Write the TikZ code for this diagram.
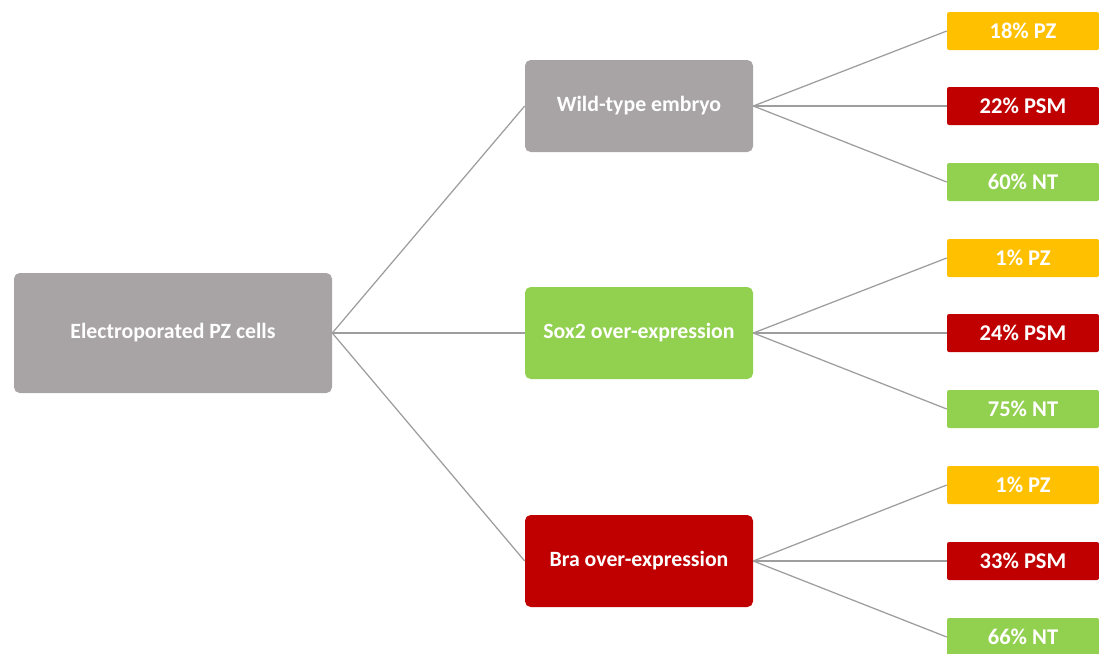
\documentclass[tikz,border=0pt]{standalone}
\usepackage{fontspec}
\setmainfont{Carlito}
\usetikzlibrary{positioning}
\definecolor{boxgray}{HTML}{A8A4A5}
\definecolor{pzorange}{HTML}{FFC000}
\definecolor{psmred}{HTML}{C00000}
\definecolor{ntgreen}{HTML}{92D050}
\definecolor{linkgray}{HTML}{9E9E9E}

\begin{document}
\begin{tikzpicture}[
  x=0.025cm, y=-0.025cm,
  rootblock/.style={rectangle, fill=boxgray, rounded corners=4pt, text centered, minimum width=318*0.025cm, minimum height=120*0.025cm, font=\bfseries\fontsize{15.5}{18}\selectfont, text=white},
  midblock/.style={rectangle, rounded corners=4pt, text centered, minimum width=228*0.025cm, minimum height=92*0.025cm, font=\bfseries\fontsize{15.5}{18}\selectfont, text=white},
  leafblock/.style={rectangle, rounded corners=1.5pt, text centered, minimum width=152*0.025cm, minimum height=38*0.025cm, font=\bfseries\fontsize{16}{18}\selectfont, text=white},
  link/.style={draw=linkgray, line width=0.9pt}
]

  \useasboundingbox (0,0) rectangle (1099,653);

  % Root
  \node[rootblock] (root) at (173, 333) {Electroporated PZ cells};

  % ==================== CONDITIONS ====================
  \node[midblock, fill=boxgray] (wt) at (639, 106) {Wild-type embryo};
  \node[midblock, fill=ntgreen] (sox) at (639, 333) {Sox2 over-expression};
  \node[midblock, fill=psmred] (bra) at (639, 561) {Bra over-expression};

  \draw[link] (root.east) -- (wt.west);
  \draw[link] (root.east) -- (sox.west);
  \draw[link] (root.east) -- (bra.west);

  % ==================== OUTCOMES ====================
  % Wild-type
  \node[leafblock, fill=pzorange] (wt_pz) at (1023, 31) {18\% PZ};
  \node[leafblock, fill=psmred] (wt_psm) at (1023, 106) {22\% PSM};
  \node[leafblock, fill=ntgreen] (wt_nt) at (1023, 182) {60\% NT};

  % Sox2
  \node[leafblock, fill=pzorange] (sox_pz) at (1023, 258) {1\% PZ};
  \node[leafblock, fill=psmred] (sox_psm) at (1023, 333) {24\% PSM};
  \node[leafblock, fill=ntgreen] (sox_nt) at (1023, 409) {75\% NT};

  % Bra
  \node[leafblock, fill=pzorange] (bra_pz) at (1023, 485) {1\% PZ};
  \node[leafblock, fill=psmred] (bra_psm) at (1023, 561) {33\% PSM};
  \node[leafblock, fill=ntgreen] (bra_nt) at (1023, 637) {66\% NT};

  \foreach \src in {wt, sox, bra} {
    \foreach \dst in {pz, psm, nt} {
      \draw[link] (\src.east) -- (\src_\dst.west);
    }
  }

\end{tikzpicture}
\end{document}
